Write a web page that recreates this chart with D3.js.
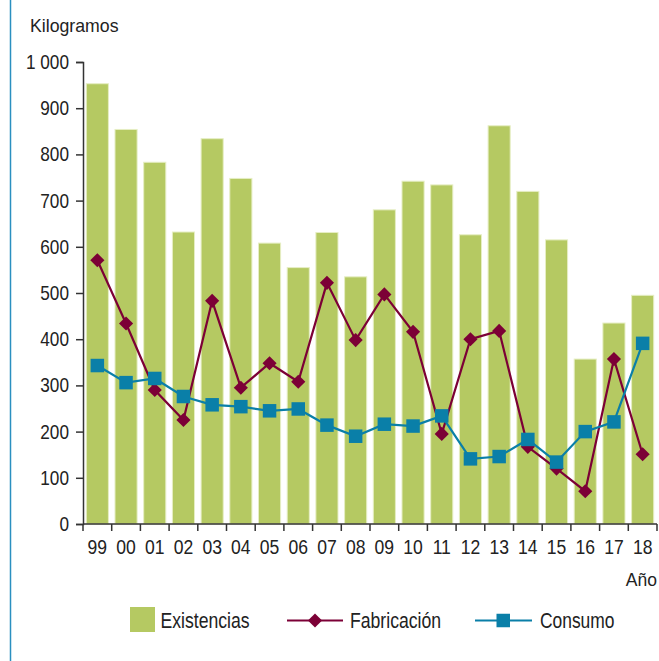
<!DOCTYPE html>
<html>
<head>
<meta charset="utf-8">
<script src="https://cdn.jsdelivr.net/npm/d3@7"></script>
<style>
body { margin: 0; background: #fff; }
svg text { font-family: "Liberation Sans", Arial, sans-serif; fill: #222; }
</style>
</head>
<body>
<div id="chart"></div>
<script>
// años, existencias (barras), fabricación y consumo (líneas)
var years = ["99","00","01","02","03","04","05","06","07","08","09","10","11","12","13","14","15","16","17","18"];
var existencias = [953, 854, 783, 632, 834, 748, 608, 555, 631, 535, 680, 742, 734, 626, 862, 720, 615, 357, 435, 495];
var fabricacion = [571, 434, 290, 225, 483, 295, 348, 308, 522, 398, 497, 416, 195, 400, 418, 167, 120, 71, 357, 151];
var consumo = [343, 306, 315, 276, 258, 254, 245, 249, 214, 190, 216, 212, 234, 141, 146, 183, 134, 200, 221, 391];
var yTicks = [0, 100, 200, 300, 400, 500, 600, 700, 800, 900, 1000];

var width = 659, height = 661;
var margin = {top: 62, right: 2, bottom: 137, left: 83};
var w = width - margin.left - margin.right,
	h = height - margin.top - margin.bottom;

var svg = d3.select("#chart").append("svg")
	.attr("width", width)
	.attr("height", height);

// condensed look: squeeze text horizontally around its anchor
function label(parent, x, y, txt, size, sx, anchor) {
	return parent.append("text")
		.attr("transform", "translate(" + x + "," + y + ") scale(" + sx + ",1)")
		.attr("text-anchor", anchor || "start")
		.style("font-size", size + "px")
		.text(txt);
}

//left border
svg.append("line")
	.attr("x1", 10.5).attr("x2", 10.5)
	.attr("y1", 0).attr("y2", height)
	.attr("stroke", "#2a8fc0")
	.attr("stroke-width", 1.5);

var g = svg.append("g")
	.attr("transform", "translate(" + margin.left + "," + margin.top + ")");

var x = d3.scaleBand()
	.domain(years)
	.range([0, w])
	.padding(0);
var y = d3.scaleLinear()
	.domain([0, 1000])
	.range([h, 0]);

var barW = x.bandwidth() * 0.77;

g.selectAll(".bar")
	.data(existencias)
	.enter().append("rect")
		.attr("class", "bar")
		.attr("x", function(d, i){ return x(years[i]) + (x.bandwidth() - barW) / 2; })
		.attr("width", barW)
		.attr("y", function(d){ return y(d); })
		.attr("height", function(d){ return h - y(d); })
		.attr("fill", "#b5c962")
		.attr("stroke", "#e6eec4")
		.attr("stroke-width", 1);

//y axis
var yAxis = g.append("g")
	.call(d3.axisLeft(y)
		.tickValues(yTicks)
		.tickSize(7)
		.tickPadding(9.3)
		.tickFormat(function(d){ return d == 1000 ? "1 000" : d; }));
yAxis.select(".domain").attr("stroke", "#333").attr("stroke-width", 1.5);
yAxis.selectAll(".tick line").attr("stroke", "#333").attr("stroke-width", 1.5);
yAxis.selectAll("text")
	.style("font-size", "20px")
	.attr("fill", "#222")
	.attr("transform", "scale(0.86,1)");

//x axis, ticks on category boundaries
var xAxis = g.append("g")
	.attr("transform", "translate(0," + h + ")");
xAxis.append("line")
	.attr("x1", 0).attr("x2", w)
	.attr("stroke", "#333").attr("stroke-width", 1.5);
var bounds = years.map(function(d){ return x(d); }).concat([w]);
xAxis.selectAll(".bt")
	.data(bounds)
	.enter().append("line")
		.attr("class", "bt")
		.attr("x1", function(d){ return d; }).attr("x2", function(d){ return d; })
		.attr("y1", 0).attr("y2", 7)
		.attr("stroke", "#333").attr("stroke-width", 1.5);
years.forEach(function(d){
	label(xAxis, x(d) + x.bandwidth() / 2, 30, d, 19.5, 0.9, "middle");
});

var cx = function(i){ return x(years[i]) + x.bandwidth() / 2; };

//fabricacion
var line = d3.line()
	.x(function(d, i){ return cx(i); })
	.y(function(d){ return y(d); });
g.append("path")
	.datum(fabricacion)
	.attr("fill", "none")
	.attr("stroke", "#7c0036")
	.attr("stroke-width", 2.2)
	.attr("d", line);
g.selectAll(".fab")
	.data(fabricacion)
	.enter().append("path")
		.attr("class", "fab")
		.attr("d", d3.symbol().type(d3.symbolSquare).size(100))
		.attr("transform", function(d, i){ return "translate(" + cx(i) + "," + y(d) + ") rotate(45)"; })
		.attr("fill", "#7c0036");

//consumo
g.append("path")
	.datum(consumo)
	.attr("fill", "none")
	.attr("stroke", "#0a7fa8")
	.attr("stroke-width", 2.2)
	.attr("d", line);
g.selectAll(".con")
	.data(consumo)
	.enter().append("rect")
		.attr("class", "con")
		.attr("x", function(d, i){ return cx(i) - 6.75; })
		.attr("y", function(d){ return y(d) - 6.75; })
		.attr("width", 13.5)
		.attr("height", 13.5)
		.attr("fill", "#0a7fa8");

//titles
label(svg, 30, 32, "Kilogramos", 17.7, 1, "start");
label(svg, 657, 586, "Año", 17.5, 1, "end");

//legend
var legend = svg.append("g").attr("transform", "translate(0,620)");
legend.append("rect")
	.attr("x", 130).attr("y", -13)
	.attr("width", 25).attr("height", 25)
	.attr("fill", "#b5c962");
label(legend, 160.5, 8, "Existencias", 21.5, 0.82, "start");
legend.append("line")
	.attr("x1", 287).attr("x2", 343)
	.attr("y1", 0.5).attr("y2", 0.5)
	.attr("stroke", "#7c0036").attr("stroke-width", 2.2);
legend.append("path")
	.attr("d", d3.symbol().type(d3.symbolSquare).size(100))
	.attr("transform", "translate(315,0.5) rotate(45)")
	.attr("fill", "#7c0036");
label(legend, 350, 8, "Fabricación", 21.5, 0.82, "start");
legend.append("line")
	.attr("x1", 475).attr("x2", 532)
	.attr("y1", 0.5).attr("y2", 0.5)
	.attr("stroke", "#0a7fa8").attr("stroke-width", 2.2);
legend.append("rect")
	.attr("x", 496.5).attr("y", -6.25)
	.attr("width", 13.5).attr("height", 13.5)
	.attr("fill", "#0a7fa8");
label(legend, 540, 8, "Consumo", 21.5, 0.81, "start");
</script>
</body>
</html>
